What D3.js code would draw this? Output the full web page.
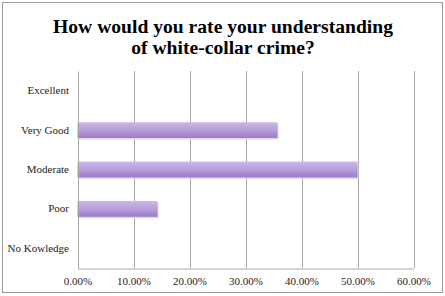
<!DOCTYPE html>
<html><head><meta charset="utf-8">
<script src="https://cdn.jsdelivr.net/npm/d3@7"></script>
<style>body{margin:0;background:#fff}svg{display:block}</style>
</head><body>
<script>
const categories = ["Excellent", "Very Good", "Moderate", "Poor", "No Kowledge"];
const values = [0, 0.3571, 0.5, 0.1429, 0];
const tickValues = [0, 0.1, 0.2, 0.3, 0.4, 0.5, 0.6];
const titleLines = ["How would you rate your understanding", "of white-collar crime?"];

const W = 445, H = 296;
const m = {left: 77.5, right: 413.5, top: 71, bottom: 268};
const svg = d3.select("body").append("svg").attr("width", W).attr("height", H);
const FONT = "'Liberation Serif', 'Times New Roman', serif";

const defs = svg.append("defs");
const g1 = defs.append("linearGradient").attr("id", "bg").attr("x1", 0).attr("x2", 0).attr("y1", 0).attr("y2", 1);
g1.append("stop").attr("offset", "0%").attr("stop-color", "#cdb8e8");
g1.append("stop").attr("offset", "50%").attr("stop-color", "#b89ddb");
g1.append("stop").attr("offset", "100%").attr("stop-color", "#9a7bc6");

svg.append("rect").attr("x", 2.5).attr("y", 2.5).attr("width", 440).attr("height", 290)
  .attr("fill", "#fff").attr("stroke", "#9a9a9a").attr("stroke-width", 1);

const x = d3.scaleLinear().domain([0, 0.6]).range([m.left, m.right]);
const y = d3.scaleBand().domain(categories).range([m.top, m.bottom]).paddingInner(0.6).paddingOuter(0.3);

// gridlines
svg.append("g").selectAll("line").data(tickValues.slice(1)).join("line")
  .attr("x1", d => Math.round(x(d)) + 0.5).attr("x2", d => Math.round(x(d)) + 0.5)
  .attr("y1", m.top).attr("y2", m.bottom)
  .attr("stroke", "#a6a6a6").attr("stroke-width", 1);

const barCats = categories.filter((c, i) => values[i] > 0);
// bar shadows
svg.append("g").selectAll("rect").data(barCats).join("rect")
  .attr("x", m.left + 1).attr("y", d => y(d) + 1.5)
  .attr("width", d => x(values[categories.indexOf(d)]) - m.left)
  .attr("height", y.bandwidth())
  .attr("fill", "#ddd5e8");
svg.append("g").selectAll("rect").data(barCats).join("rect")
  .attr("x", m.left).attr("y", d => y(d))
  .attr("width", d => x(values[categories.indexOf(d)]) - m.left)
  .attr("height", y.bandwidth())
  .attr("fill", "url(#bg)");

// axes
const xAxis = d3.axisBottom(x).tickValues(tickValues).tickSize(0).tickPadding(9)
  .tickFormat(d => (d * 100).toFixed(2) + "%");
const gx = svg.append("g").attr("transform", `translate(0,${m.bottom + 0.5})`).call(xAxis);
gx.select(".domain").attr("stroke", "#a6a6a6");
gx.selectAll("text").attr("font-family", FONT).attr("font-size", 11).attr("fill", "#222");

const yAxis = d3.axisLeft(y).tickSize(0).tickPadding(9);
const gy = svg.append("g").attr("transform", `translate(${m.left + 0.5},0)`).call(yAxis);
gy.select(".domain").attr("stroke", "#a6a6a6");
gy.selectAll("text").attr("font-family", FONT).attr("font-size", 11).attr("fill", "#222");

// title
const tt = svg.append("g").selectAll("text").data(titleLines).join("text")
  .attr("x", 223).attr("y", (d, i) => 33 + i * 20.5)
  .attr("text-anchor", "middle")
  .attr("font-family", FONT).attr("font-weight", "bold").attr("font-size", 20)
  .attr("fill", "#000").text(d => d);
const w0 = tt.node().getComputedTextLength();
tt.attr("font-size", 20 * 340 / w0);
</script>
</body></html>
